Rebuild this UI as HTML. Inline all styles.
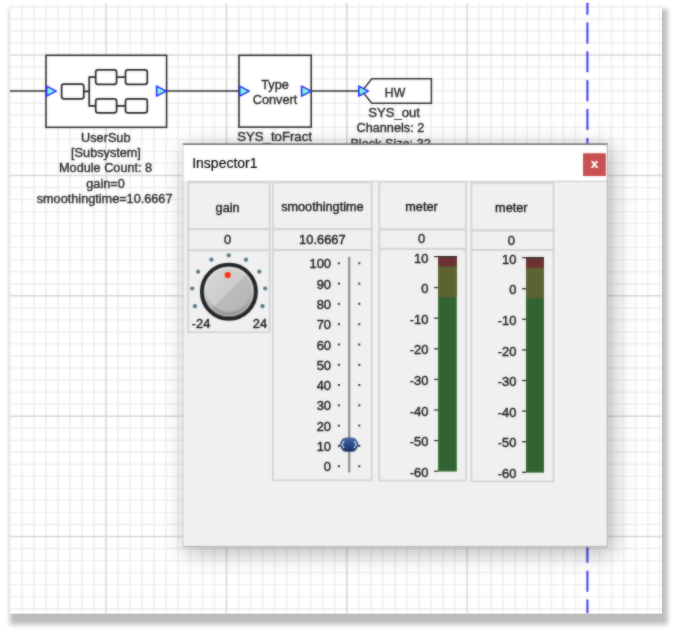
<!DOCTYPE html>
<html lang="en"><head><meta charset="utf-8"><title>Inspector1</title>
<style>html,body{margin:0;padding:0;background:#fff;width:677px;height:634px;overflow:hidden}svg{display:block}text{font-family:"Liberation Sans",sans-serif;}.lbl{font-size:12.7px;fill:#2c2c2c;text-anchor:middle;stroke:#2c2c2c;stroke-width:0.4px}.ui{font-size:12.9px;fill:#1c1c1c;stroke:#1c1c1c;stroke-width:0.4px}</style></head><body>
<svg width="677" height="634" viewBox="0 0 677 634">
<defs>
<filter id="psh" x="-10%" y="-10%" width="120%" height="120%"><feGaussianBlur stdDeviation="2.5"/></filter>
<filter id="wsh" x="-20%" y="-20%" width="140%" height="140%"><feGaussianBlur stdDeviation="11"/></filter>
<filter id="soft" x="0" y="0" width="100%" height="100%" filterUnits="userSpaceOnUse" color-interpolation-filters="sRGB"><feGaussianBlur stdDeviation="0.8" result="b"/><feComposite in="SourceGraphic" in2="b" operator="arithmetic" k1="0" k2="0.5" k3="0.5" k4="0"/></filter>
<clipPath id="pc"><rect x="9.7" y="2.8" width="652.3" height="610.8000000000001"/></clipPath>
<linearGradient id="kf" x1="0" y1="0" x2="1" y2="1"><stop offset="0" stop-color="#d8d8d8"/><stop offset="0.5" stop-color="#cdcdcd"/><stop offset="0.5" stop-color="#bbbbbb"/><stop offset="1" stop-color="#b4b4b4"/></linearGradient>
<linearGradient id="th" x1="0" y1="0" x2="0" y2="1"><stop offset="0" stop-color="#4a6aa8"/><stop offset="0.5" stop-color="#2c4a86"/><stop offset="1" stop-color="#1c2f5c"/></linearGradient>
<radialGradient id="ks" cx="0.5" cy="0.42" r="0.6"><stop offset="0.74" stop-color="#000" stop-opacity="0"/><stop offset="1" stop-color="#000" stop-opacity="0.5"/></radialGradient>
</defs>
<rect x="9.8" y="9" width="658.0" height="615.6" fill="#000" opacity="0.255" filter="url(#psh)"/>
<rect x="9.7" y="2.8" width="652.3" height="610.8000000000001" fill="#fff"/>
<g clip-path="url(#pc)">
<g filter="url(#soft)">
<path d="M9.82 2.8V613.6M21.85 2.8V613.6M33.89 2.8V613.6M45.92 2.8V613.6M57.96 2.8V613.6M69.99 2.8V613.6M82.03 2.8V613.6M94.06 2.8V613.6M118.13 2.8V613.6M130.17 2.8V613.6M142.20 2.8V613.6M154.24 2.8V613.6M166.27 2.8V613.6M178.31 2.8V613.6M190.34 2.8V613.6M202.38 2.8V613.6M214.41 2.8V613.6M238.48 2.8V613.6M250.52 2.8V613.6M262.56 2.8V613.6M274.59 2.8V613.6M286.62 2.8V613.6M298.66 2.8V613.6M310.69 2.8V613.6M322.73 2.8V613.6M334.76 2.8V613.6M358.84 2.8V613.6M370.87 2.8V613.6M382.90 2.8V613.6M394.94 2.8V613.6M406.98 2.8V613.6M419.01 2.8V613.6M431.04 2.8V613.6M443.08 2.8V613.6M455.12 2.8V613.6M479.18 2.8V613.6M491.22 2.8V613.6M503.25 2.8V613.6M515.29 2.8V613.6M527.33 2.8V613.6M539.36 2.8V613.6M551.39 2.8V613.6M563.43 2.8V613.6M575.47 2.8V613.6M599.53 2.8V613.6M611.57 2.8V613.6M623.61 2.8V613.6M635.64 2.8V613.6M647.68 2.8V613.6M659.71 2.8V613.6M9.7 6.96H662.0M9.7 18.99H662.0M9.7 31.03H662.0M9.7 43.06H662.0M9.7 67.14H662.0M9.7 79.17H662.0M9.7 91.21H662.0M9.7 103.24H662.0M9.7 115.28H662.0M9.7 127.31H662.0M9.7 139.34H662.0M9.7 151.38H662.0M9.7 163.41H662.0M9.7 187.48H662.0M9.7 199.52H662.0M9.7 211.56H662.0M9.7 223.59H662.0M9.7 235.62H662.0M9.7 247.66H662.0M9.7 259.69H662.0M9.7 271.73H662.0M9.7 283.76H662.0M9.7 307.84H662.0M9.7 319.87H662.0M9.7 331.91H662.0M9.7 343.94H662.0M9.7 355.98H662.0M9.7 368.01H662.0M9.7 380.05H662.0M9.7 392.08H662.0M9.7 404.12H662.0M9.7 428.19H662.0M9.7 440.22H662.0M9.7 452.26H662.0M9.7 464.29H662.0M9.7 476.33H662.0M9.7 488.36H662.0M9.7 500.40H662.0M9.7 512.43H662.0M9.7 524.47H662.0M9.7 548.53H662.0M9.7 560.57H662.0M9.7 572.61H662.0M9.7 584.64H662.0M9.7 596.68H662.0M9.7 608.71H662.0" stroke="#ededed" stroke-width="1.35" fill="none"/>
<path d="M106.10 2.8V613.6M226.45 2.8V613.6M346.80 2.8V613.6M467.15 2.8V613.6M9.7 55.10H662.0M9.7 175.45H662.0M9.7 295.80H662.0M9.7 416.15H662.0M9.7 536.50H662.0" stroke="#d6d6d6" stroke-width="1.5" fill="none"/>
<path d="M587.4 -6.35V613.6" stroke="#4040f2" stroke-width="2.1" stroke-dasharray="21 7.85" fill="none"/>
<path d="M9.7 91.1H46M166.5 91.1H239M311 91.1H362" stroke="#2e2e2e" stroke-width="1.5" fill="none"/>
<rect x="46" y="55.3" width="120.6" height="72" fill="#fff" stroke="#2e2e2e" stroke-width="1.6"/>
<g fill="#fff" stroke="#262626" stroke-width="1.7">
<rect x="61.6" y="84.2" width="22.2" height="14.6" rx="2.3" ry="2.3"/>
<rect x="95.7" y="69.9" width="20.9" height="14.4" rx="2.3" ry="2.3"/>
<rect x="125.5" y="69.9" width="21.8" height="14.4" rx="2.3" ry="2.3"/>
<rect x="95.7" y="98.8" width="20.9" height="14.0" rx="2.3" ry="2.3"/>
<rect x="125.5" y="98.8" width="21.8" height="14.0" rx="2.3" ry="2.3"/>
<path d="M83.8 91.39999999999999H89.2M95.7 77.1H89.2V105.8H95.7M116.6 77.1H125.5M116.6 105.8H125.5" fill="none"/>
</g>
<path d="M46.6 86.1L56.2 91.1L46.6 96.1Z" fill="#7ffbdc" stroke="#2a2aff" stroke-width="1.6" stroke-linejoin="round"/>
<path d="M156.6 86.1L166.2 91.1L156.6 96.1Z" fill="#7ffbdc" stroke="#2a2aff" stroke-width="1.6" stroke-linejoin="round"/>
<rect x="239" y="55.3" width="72.2" height="71.8" fill="#fff" stroke="#2e2e2e" stroke-width="1.6"/>
<path d="M239.6 86.1L249.2 91.1L239.6 96.1Z" fill="#7ffbdc" stroke="#2a2aff" stroke-width="1.6" stroke-linejoin="round"/>
<path d="M301.6 86.1L311.20000000000005 91.1L301.6 96.1Z" fill="#7ffbdc" stroke="#2a2aff" stroke-width="1.6" stroke-linejoin="round"/>
<text class="lbl" x="275" y="88.6">Type</text><text class="lbl" x="275" y="103.5">Convert</text>
<path d="M362 91.1L371.8 78.7H431.4V103.2H371.8Z" fill="#fff" stroke="#2e2e2e" stroke-width="1.5" stroke-linejoin="miter"/>
<path d="M358.8 86.1L368.40000000000003 91.1L358.8 96.1Z" fill="#7ffbdc" stroke="#2a2aff" stroke-width="1.6" stroke-linejoin="round"/>
<text class="lbl" x="395" y="96.6" style="font-size:12.2px">HW</text>
<text class="lbl" x="105.8" y="141.5">UserSub</text>
<text class="lbl" x="106" y="157">[Subsystem]</text>
<text class="lbl" x="105.6" y="172.3">Module Count: 8</text>
<text class="lbl" x="105.5" y="187.8">gain=0</text>
<text class="lbl" x="104.6" y="203.3">smoothingtime=10.6667</text>
<text class="lbl" x="274.6" y="140.8" style="font-size:13.2px">SYS_toFract</text>
<text class="lbl" x="394.1" y="116.8" style="font-size:13.1px">SYS_out</text>
<text class="lbl" x="390.4" y="132.4">Channels: 2</text>
<text class="lbl" x="390.6" y="148.4">Block Size: 32</text>
</g>
<rect x="185.7" y="147.0" width="428.09999999999997" height="407.1" fill="#000" opacity="0.26" filter="url(#wsh)"/>
<g filter="url(#soft)">
<rect x="182.7" y="144.0" width="425.09999999999997" height="403.1" fill="#f0f0f0"/>
<rect x="182.7" y="144.0" width="425.09999999999997" height="37.0" fill="#fff"/>
<path d="M182.7 144.1H607.8" stroke="#7c7c7c" stroke-width="1.6"/>
<path d="M607.3 144.0V547.1M182.7 546.6H607.8" stroke="#b2b2b2" stroke-width="1.1" fill="none"/>
<path d="M183.1 144.0V547.1" stroke="#c6c6c6" stroke-width="0.8" fill="none"/>
<path d="M187.7 181.3H606.8" stroke="#c8c8c8" stroke-width="1"/>
<text x="192.2" y="168.2" style="font-size:14px;fill:#000;stroke:#000;stroke-width:0.15px">Inspector1</text>
<rect x="583.6" y="153.8" width="21.6" height="21.8" fill="#c85050" stroke="#c23e3e" stroke-width="0.9"/>
<text x="594.5" y="168.3" text-anchor="middle" style="font-size:12.5px;font-weight:bold;fill:#fff;font-family:'DejaVu Sans','Liberation Sans',sans-serif">x</text>
<g fill="none" stroke="#d3d3d3" stroke-width="1.8">
<rect x="188.2" y="182.4" width="81.4" height="46.8"/>
<rect x="188.2" y="229.2" width="81.4" height="21.0"/>
<rect x="188.2" y="250.2" width="81.4" height="82.0"/>
</g>
<text class="ui" text-anchor="middle" x="227.6" y="211.8" style="font-size:12.7px">gain</text>
<text class="ui" text-anchor="middle" x="227.6" y="244.0">0</text>
<g fill="none" stroke="#d3d3d3" stroke-width="1.8">
<rect x="273.0" y="182.4" width="98.7" height="46.8"/>
<rect x="273.0" y="229.2" width="98.7" height="20.8"/>
<rect x="273.0" y="250.0" width="98.7" height="230.3"/>
</g>
<text class="ui" text-anchor="middle" x="322.4" y="210.8" style="font-size:12.7px">smoothingtime</text>
<text class="ui" text-anchor="middle" x="322.4" y="243.9">10.6667</text>
<g fill="none" stroke="#d3d3d3" stroke-width="1.8">
<rect x="379.3" y="182.0" width="86.6" height="47.4"/>
<rect x="379.3" y="229.4" width="86.6" height="19.4"/>
<rect x="379.3" y="248.8" width="86.6" height="231.8"/>
</g>
<text class="ui" text-anchor="middle" x="421.5" y="210.7" style="font-size:12.7px">meter</text>
<text class="ui" text-anchor="middle" x="421.5" y="243.4">0</text>
<g fill="none" stroke="#d3d3d3" stroke-width="1.8">
<rect x="471.5" y="183.2" width="82.0" height="47.3"/>
<rect x="471.5" y="230.5" width="82.0" height="19.5"/>
<rect x="471.5" y="250.0" width="82.0" height="231.4"/>
</g>
<text class="ui" text-anchor="middle" x="511.3" y="211.8" style="font-size:12.7px">meter</text>
<text class="ui" text-anchor="middle" x="511.3" y="244.6">0</text>
<circle cx="228.9" cy="291.8" r="27.1" fill="url(#kf)" stroke="#202427" stroke-width="3.7"/>
<circle cx="228.9" cy="291.8" r="25.4" fill="url(#ks)"/>
<circle cx="228.9" cy="291.8" r="23.6" fill="none" stroke="#ececec" stroke-opacity="0.5" stroke-width="1.4"/>
<circle cx="227.7" cy="275.1" r="3.1" fill="#ff3408"/>
<circle cx="194.9" cy="306.2" r="2.1" fill="#557789"/>
<circle cx="192.2" cy="288.5" r="2.1" fill="#557789"/>
<circle cx="198.1" cy="271.7" r="2.1" fill="#557789"/>
<circle cx="211.4" cy="259.7" r="2.1" fill="#557789"/>
<circle cx="228.7" cy="255.3" r="2.1" fill="#557789"/>
<circle cx="246.0" cy="259.7" r="2.1" fill="#557789"/>
<circle cx="259.3" cy="271.7" r="2.1" fill="#557789"/>
<circle cx="265.2" cy="288.5" r="2.1" fill="#557789"/>
<circle cx="262.5" cy="306.2" r="2.1" fill="#557789"/>
<text class="ui" x="191.8" y="327.8">-24</text><text class="ui" text-anchor="end" x="267.2" y="327.8">24</text>
<path d="M349.2 256.8V472.4" stroke="#8c8c8c" stroke-width="2.2"/>
<text class="ui" text-anchor="end" x="331" y="268.4">100</text>
<rect x="337.9" y="262.3" width="2" height="2" fill="#333"/><rect x="358.3" y="262.3" width="2" height="2" fill="#333"/>
<text class="ui" text-anchor="end" x="331" y="288.7">90</text>
<rect x="337.9" y="282.6" width="2" height="2" fill="#333"/><rect x="358.3" y="282.6" width="2" height="2" fill="#333"/>
<text class="ui" text-anchor="end" x="331" y="309.0">80</text>
<rect x="337.9" y="302.9" width="2" height="2" fill="#333"/><rect x="358.3" y="302.9" width="2" height="2" fill="#333"/>
<text class="ui" text-anchor="end" x="331" y="329.3">70</text>
<rect x="337.9" y="323.2" width="2" height="2" fill="#333"/><rect x="358.3" y="323.2" width="2" height="2" fill="#333"/>
<text class="ui" text-anchor="end" x="331" y="349.6">60</text>
<rect x="337.9" y="343.5" width="2" height="2" fill="#333"/><rect x="358.3" y="343.5" width="2" height="2" fill="#333"/>
<text class="ui" text-anchor="end" x="331" y="369.9">50</text>
<rect x="337.9" y="363.8" width="2" height="2" fill="#333"/><rect x="358.3" y="363.8" width="2" height="2" fill="#333"/>
<text class="ui" text-anchor="end" x="331" y="390.1">40</text>
<rect x="337.9" y="384.0" width="2" height="2" fill="#333"/><rect x="358.3" y="384.0" width="2" height="2" fill="#333"/>
<text class="ui" text-anchor="end" x="331" y="410.4">30</text>
<rect x="337.9" y="404.3" width="2" height="2" fill="#333"/><rect x="358.3" y="404.3" width="2" height="2" fill="#333"/>
<text class="ui" text-anchor="end" x="331" y="430.7">20</text>
<rect x="337.9" y="424.6" width="2" height="2" fill="#333"/><rect x="358.3" y="424.6" width="2" height="2" fill="#333"/>
<text class="ui" text-anchor="end" x="331" y="451.0">10</text>
<rect x="337.9" y="444.9" width="2" height="2" fill="#333"/><rect x="358.3" y="444.9" width="2" height="2" fill="#333"/>
<text class="ui" text-anchor="end" x="331" y="471.3">0</text>
<rect x="337.9" y="465.2" width="2" height="2" fill="#333"/><rect x="358.3" y="465.2" width="2" height="2" fill="#333"/>
<path d="M340 444.6Q340.6 441.6 343.4 438.4Q349.1 437.2 354.8 438.4Q357.6 441.6 358.2 444.6Q357.6 447.8 354.8 450.9Q349.1 452 343.4 450.9Q340.6 447.8 340 444.6Z" fill="url(#th)" stroke="#24396c" stroke-width="0.6"/>
<path d="M344.2 441.2L341.9 444.6L344.2 448.2M354 441.2L356.3 444.6L354 448.2" fill="none" stroke="#c4d2ec" stroke-width="1.3"/>
<rect x="438.1" y="256.2" width="18.7" height="215.3" fill="#326432"/>
<rect x="438.1" y="256.2" width="18.7" height="40.8" fill="#5c6232"/>
<rect x="438.1" y="256.2" width="18.7" height="10.4" fill="#6c3232"/>
<path d="M434.1 256.59999999999997H456.8" stroke="#2c2c2c" stroke-width="1.2"/>
<text class="ui" text-anchor="end" x="428.4" y="262.6">10</text>
<path d="M434.1 287.6H438.1" stroke="#333" stroke-width="1.3"/>
<text class="ui" text-anchor="end" x="428.4" y="293.2">0</text>
<path d="M434.1 318.2H438.1" stroke="#333" stroke-width="1.3"/>
<text class="ui" text-anchor="end" x="428.4" y="323.8">-10</text>
<path d="M434.1 348.8H438.1" stroke="#333" stroke-width="1.3"/>
<text class="ui" text-anchor="end" x="428.4" y="354.4">-20</text>
<path d="M434.1 379.4H438.1" stroke="#333" stroke-width="1.3"/>
<text class="ui" text-anchor="end" x="428.4" y="385.0">-30</text>
<path d="M434.1 410.0H438.1" stroke="#333" stroke-width="1.3"/>
<text class="ui" text-anchor="end" x="428.4" y="415.6">-40</text>
<path d="M434.1 440.6H438.1" stroke="#333" stroke-width="1.3"/>
<text class="ui" text-anchor="end" x="428.4" y="446.2">-50</text>
<path d="M434.1 471.2H438.1" stroke="#333" stroke-width="1.3"/>
<text class="ui" text-anchor="end" x="428.4" y="476.8">-60</text>
<rect x="526.0" y="257.3" width="18.0" height="215.3" fill="#326432"/>
<rect x="526.0" y="257.3" width="18.0" height="40.8" fill="#5c6232"/>
<rect x="526.0" y="257.3" width="18.0" height="10.4" fill="#6c3232"/>
<path d="M522.0 257.7H544.0" stroke="#2c2c2c" stroke-width="1.2"/>
<text class="ui" text-anchor="end" x="516.4" y="263.7">10</text>
<path d="M522.0 288.7H526.0" stroke="#333" stroke-width="1.3"/>
<text class="ui" text-anchor="end" x="516.4" y="294.3">0</text>
<path d="M522.0 319.3H526.0" stroke="#333" stroke-width="1.3"/>
<text class="ui" text-anchor="end" x="516.4" y="324.9">-10</text>
<path d="M522.0 349.9H526.0" stroke="#333" stroke-width="1.3"/>
<text class="ui" text-anchor="end" x="516.4" y="355.5">-20</text>
<path d="M522.0 380.5H526.0" stroke="#333" stroke-width="1.3"/>
<text class="ui" text-anchor="end" x="516.4" y="386.1">-30</text>
<path d="M522.0 411.1H526.0" stroke="#333" stroke-width="1.3"/>
<text class="ui" text-anchor="end" x="516.4" y="416.7">-40</text>
<path d="M522.0 441.7H526.0" stroke="#333" stroke-width="1.3"/>
<text class="ui" text-anchor="end" x="516.4" y="447.3">-50</text>
<path d="M522.0 472.3H526.0" stroke="#333" stroke-width="1.3"/>
<text class="ui" text-anchor="end" x="516.4" y="477.9">-60</text>
</g>
</g>
</svg></body></html>
